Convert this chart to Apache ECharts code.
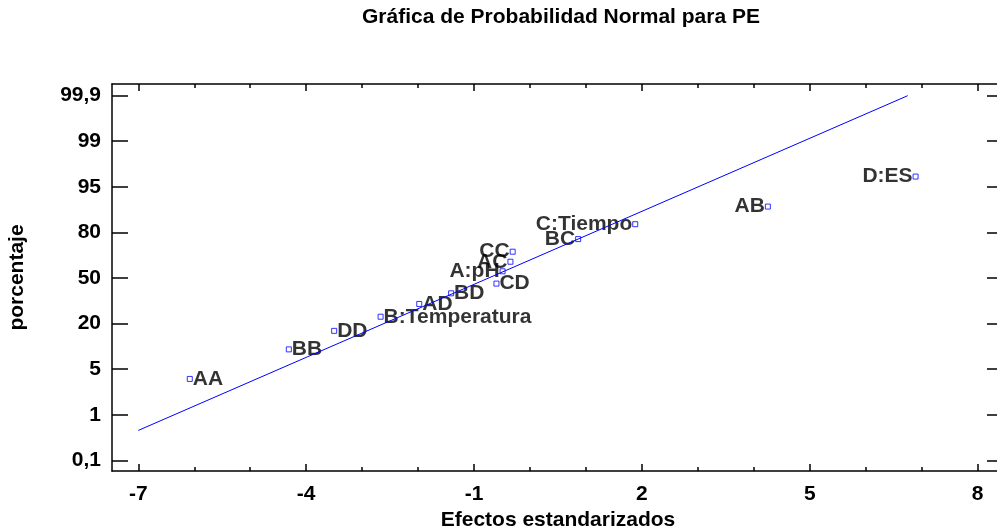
<!DOCTYPE html>
<html>
<head>
<meta charset="utf-8">
<script src="https://cdn.jsdelivr.net/npm/echarts@6/dist/echarts.min.js"></script>
<style>
  html, body { margin: 0; padding: 0; background: #fff; }
  #chart { width: 997px; height: 529px; }
</style>
</head>
<body>
<div id="chart"></div>
<script>
// Standardized effects and their cumulative probability (%) on the normal scale
const effectNames = ['AA', 'BB', 'DD', 'B:Temperatura', 'AD', 'BD', 'CD', 'A:pH', 'AC', 'CC', 'BC', 'C:Tiempo', 'AB', 'D:ES'];
const effectValues = [-6.08, -4.31, -3.50, -2.67, -1.98, -1.41, -0.60, -0.49, -0.35, -0.31, 0.86, 1.88, 4.25, 6.89];
const effectPercents = [4.14, 11.5, 17.6, 24.5, 32.9, 39.9, 46.3, 54.4, 60.7, 67.3, 75.6, 82.7, 88.5, 95.9];

// Reference line endpoints (effect, percent)
const refLineEffects = [-7, 6.75];
const refLinePercents = [0.69, 99.9];

// Probability axis tick labels, equally spaced on the plot
const probTicks = [0.1, 1, 5, 20, 50, 80, 95, 99, 99.9];
const probTickLabels = ['0,1', '1', '5', '20', '50', '80', '95', '99', '99,9'];

// Effect axis ticks
const xMajorTicks = [-7, -4, -1, 2, 5, 8];
const xMinorTicks = [-7, -6, -5, -4, -3, -2, -1, 0, 1, 2, 3, 4, 5, 6, 7, 8];

// Map a percentage onto the probability axis position (tick index units)
function probPos(p) {
  for (let i = 0; i < probTicks.length - 1; i++) {
    const a = probTicks[i], b = probTicks[i + 1];
    if (p <= b || i === probTicks.length - 2) {
      return i + (p - a) / (b - a);
    }
  }
  return 0;
}

// Effects whose label sits to the left of the marker
const leftLabeled = new Set(['A:pH', 'AC', 'CC', 'BC', 'C:Tiempo', 'AB', 'D:ES']);

const FONT = 'Liberation Sans, Arial, sans-serif';
const X_MIN = -7.47, X_MAX = 8.47;
const Y_MIN = -0.235, Y_MAX = 8.256;

const chart = echarts.init(document.getElementById('chart'), null, { renderer: 'canvas' });

const pointData = effectNames.map((name, i) => ({
  name: name,
  value: [effectValues[i], probPos(effectPercents[i])],
  label: { position: leftLabeled.has(name) ? 'left' : 'right' }
}));

const lineData = refLineEffects.map((x, i) => [x, probPos(refLinePercents[i])]);

const tickAxisBase = {
  type: 'value', min: X_MIN, max: X_MAX, scale: true,
  splitLine: { show: false },
  axisLabel: { show: false }
};

chart.setOption({
  animation: false,
  backgroundColor: '#ffffff',
  title: {
    text: 'Gráfica de Probabilidad Normal para PE',
    left: 556, top: 2, textAlign: 'center',
    textStyle: { fontFamily: FONT, fontSize: 21, fontWeight: 'bold', color: '#000' }
  },
  grid: {
    left: 112, top: 84, width: 892, height: 387,
    containLabel: false, outerBoundsMode: 'none'
  },
  xAxis: [
    Object.assign({}, tickAxisBase, {
      position: 'bottom',
      name: 'Efectos estandarizados',
      nameLocation: 'middle', nameGap: 35,
      nameTextStyle: { fontFamily: FONT, fontSize: 21, fontWeight: 'bold', color: '#000' },
      axisLine: { show: true, onZero: false, lineStyle: { color: '#000', width: 1.5 } },
      axisTick: { show: true, inside: true, length: 7, customValues: xMajorTicks, lineStyle: { color: '#000', width: 1.5 } },
      axisLabel: {
        show: true, customValues: xMajorTicks, margin: 13,
        fontFamily: FONT, fontSize: 21, fontWeight: 'bold', color: '#000',
        formatter: v => String(v)
      }
    }),
    Object.assign({}, tickAxisBase, {
      position: 'bottom', offset: 0,
      axisLine: { show: false, onZero: false },
      axisTick: { show: true, inside: true, length: 4, customValues: xMinorTicks, lineStyle: { color: '#000', width: 1.5 } }
    }),
    Object.assign({}, tickAxisBase, {
      position: 'top', offset: 0,
      axisLine: { show: true, onZero: false, lineStyle: { color: '#000', width: 1.5 } },
      axisTick: { show: true, inside: true, length: 7, customValues: xMajorTicks, lineStyle: { color: '#000', width: 1.5 } }
    }),
    Object.assign({}, tickAxisBase, {
      position: 'top', offset: 0,
      axisLine: { show: false, onZero: false },
      axisTick: { show: true, inside: true, length: 4, customValues: xMinorTicks, lineStyle: { color: '#000', width: 1.5 } }
    })
  ],
  yAxis: [
    {
      type: 'value', min: Y_MIN, max: Y_MAX, position: 'left',
      name: 'porcentaje', nameLocation: 'middle', nameGap: 84, nameRotate: 90,
      nameTextStyle: { fontFamily: FONT, fontSize: 21, fontWeight: 'bold', color: '#000' },
      splitLine: { show: false },
      axisLine: { show: true, onZero: false, lineStyle: { color: '#000', width: 1.5 } },
      axisTick: { show: true, inside: true, length: 16, customValues: probTicks.map((_, i) => i), lineStyle: { color: '#000', width: 1.5 } },
      axisLabel: {
        show: true, customValues: probTicks.map((_, i) => i), margin: 11,
        fontFamily: FONT, fontSize: 21, fontWeight: 'bold', color: '#000',
        formatter: v => probTickLabels[Math.round(v)]
      }
    },
    {
      type: 'value', min: Y_MIN, max: Y_MAX, position: 'right',
      splitLine: { show: false },
      axisLine: { show: true, onZero: false, lineStyle: { color: '#000', width: 1.5 } },
      axisTick: { show: true, inside: true, length: 17, customValues: probTicks.map((_, i) => i), lineStyle: { color: '#000', width: 1.5 } },
      axisLabel: { show: false }
    }
  ],
  series: [
    {
      type: 'line', xAxisIndex: 0, yAxisIndex: 0,
      data: lineData, symbol: 'none', silent: true,
      lineStyle: { color: '#0000ff', width: 1 }
    },
    {
      type: 'scatter', xAxisIndex: 0, yAxisIndex: 0,
      data: pointData,
      symbol: 'rect', symbolSize: 5,
      itemStyle: { color: '#ffffff', borderColor: '#0000ff', borderWidth: 1 },
      label: {
        show: true, formatter: p => p.name, distance: 0,
        fontFamily: FONT, fontSize: 21, fontWeight: 'bold', color: '#000'
      },
      labelLayout: { hideOverlap: false }
    }
  ]
});
</script>
</body>
</html>
